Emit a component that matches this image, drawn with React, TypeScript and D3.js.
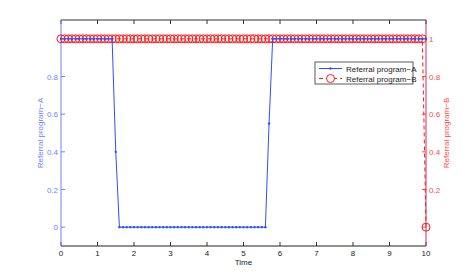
import * as d3 from "d3";

const WIDTH = 471;
const HEIGHT = 277;
const PLOT = { left: 61, right: 426, top: 20, bottom: 246 };

// sample times (s)
const time = [
  0, 0.1, 0.2, 0.3, 0.4, 0.5, 0.6, 0.7, 0.8, 0.9,
  1, 1.1, 1.2, 1.3, 1.4, 1.5, 1.6, 1.7, 1.8, 1.9,
  2, 2.1, 2.2, 2.3, 2.4, 2.5, 2.6, 2.7, 2.8, 2.9,
  3, 3.1, 3.2, 3.3, 3.4, 3.5, 3.6, 3.7, 3.8, 3.9,
  4, 4.1, 4.2, 4.3, 4.4, 4.5, 4.6, 4.7, 4.8, 4.9,
  5, 5.1, 5.2, 5.3, 5.4, 5.5, 5.6, 5.7, 5.8, 5.9,
  6, 6.1, 6.2, 6.3, 6.4, 6.5, 6.6, 6.7, 6.8, 6.9,
  7, 7.1, 7.2, 7.3, 7.4, 7.5, 7.6, 7.7, 7.8, 7.9,
  8, 8.1, 8.2, 8.3, 8.4, 8.5, 8.6, 8.7, 8.8, 8.9,
  9, 9.1, 9.2, 9.3, 9.4, 9.5, 9.6, 9.7, 9.8, 9.9,
  10,
];

const programA = [
  1, 1, 1, 1, 1, 1, 1, 1, 1, 1,
  1, 1, 1, 1, 1, 0.4, 0, 0, 0, 0,
  0, 0, 0, 0, 0, 0, 0, 0, 0, 0,
  0, 0, 0, 0, 0, 0, 0, 0, 0, 0,
  0, 0, 0, 0, 0, 0, 0, 0, 0, 0,
  0, 0, 0, 0, 0, 0, 0, 0.55, 1, 1,
  1, 1, 1, 1, 1, 1, 1, 1, 1, 1,
  1, 1, 1, 1, 1, 1, 1, 1, 1, 1,
  1, 1, 1, 1, 1, 1, 1, 1, 1, 1,
  1, 1, 1, 1, 1, 1, 1, 1, 1, 1,
  1,
];

const programB = [
  1, 1, 1, 1, 1, 1, 1, 1, 1, 1,
  1, 1, 1, 1, 1, 1, 1, 1, 1, 1,
  1, 1, 1, 1, 1, 1, 1, 1, 1, 1,
  1, 1, 1, 1, 1, 1, 1, 1, 1, 1,
  1, 1, 1, 1, 1, 1, 1, 1, 1, 1,
  1, 1, 1, 1, 1, 1, 1, 1, 1, 1,
  1, 1, 1, 1, 1, 1, 1, 1, 1, 1,
  1, 1, 1, 1, 1, 1, 1, 1, 1, 1,
  1, 1, 1, 1, 1, 1, 1, 1, 1, 1,
  1, 1, 1, 1, 1, 1, 1, 1, 1, 1,
  0,
];

const xTicks = [0, 1, 2, 3, 4, 5, 6, 7, 8, 9, 10];
const leftTicks = [0, 0.2, 0.4, 0.6, 0.8];
const rightTicks = [0, 0.2, 0.4, 0.6, 0.8, 1];

const BLUE = "#2f4dff";
const BLUE_AXIS = "#6f82ff";
const RED = "#ff1a1a";
const RED_TEXT = "#ff4a4a";
const FONT = "'Liberation Sans', Arial, sans-serif";

export default function App() {
  const x = d3.scaleLinear().domain([0, 10]).range([PLOT.left, PLOT.right]);
  const yA = d3.scaleLinear().domain([-0.1, 1.1]).range([PLOT.bottom, PLOT.top]);
  const yB = d3.scaleLinear().domain([-0.1, 1.1]).range([PLOT.bottom, PLOT.top]);

  const lineA = d3
    .line<number>()
    .x((_, i) => x(time[i]))
    .y((d) => yA(d));
  const lineB = d3
    .line<number>()
    .x((_, i) => x(time[i]))
    .y((d) => yB(d));

  const midY = (PLOT.top + PLOT.bottom) / 2;

  return (
    <div style={{ position: "absolute", left: 0, top: 0 }}>
      <svg width={WIDTH} height={HEIGHT} fontFamily={FONT}>
        <rect width={WIDTH} height={HEIGHT} fill="#fff" />

        {/* top + bottom frame */}
        <line x1={PLOT.left} x2={PLOT.right} y1={PLOT.top} y2={PLOT.top} stroke="#333" />
        <line x1={PLOT.left} x2={PLOT.right} y1={PLOT.bottom} y2={PLOT.bottom} stroke="#222" />

        {xTicks.map((t) => (
          <g key={t}>
            <line x1={x(t)} x2={x(t)} y1={PLOT.bottom} y2={PLOT.bottom - 4} stroke="#333" />
            <line x1={x(t)} x2={x(t)} y1={PLOT.top} y2={PLOT.top + 4} stroke="#333" />
            <text x={x(t)} y={PLOT.bottom + 10} textAnchor="middle" fontSize={8} fill="#222">
              {t}
            </text>
          </g>
        ))}
        <text x={(PLOT.left + PLOT.right) / 2} y={PLOT.bottom + 19} textAnchor="middle" fontSize={8} fill="#222">
          Time
        </text>

        {/* left axis (A) */}
        <line x1={PLOT.left} x2={PLOT.left} y1={PLOT.top} y2={PLOT.bottom} stroke={BLUE_AXIS} />
        {leftTicks.map((t) => (
          <g key={t}>
            <line x1={PLOT.left} x2={PLOT.left + 4} y1={yA(t)} y2={yA(t)} stroke={BLUE_AXIS} />
            <text x={PLOT.left - 3} y={yA(t) + 3} textAnchor="end" fontSize={8} fill={BLUE_AXIS}>
              {t}
            </text>
          </g>
        ))}
        <text
          transform={`translate(43,${midY}) rotate(-90)`}
          textAnchor="middle"
          fontSize={8}
          fill={BLUE_AXIS}
        >
          Referral program−A
        </text>

        {/* right axis (B) */}
        <line x1={PLOT.right} x2={PLOT.right} y1={PLOT.top} y2={PLOT.bottom} stroke="#c4306c" />
        {rightTicks.map((t) => (
          <g key={t}>
            <line x1={PLOT.right} x2={PLOT.right - 4} y1={yB(t)} y2={yB(t)} stroke={RED_TEXT} />
            {t !== 0 && (
              <text x={PLOT.right + 3} y={yB(t) + 3} textAnchor="start" fontSize={8} fill={RED_TEXT}>
                {t}
              </text>
            )}
          </g>
        ))}
        <text
          transform={`translate(449,${midY}) rotate(-90)`}
          textAnchor="middle"
          fontSize={8}
          fill={RED_TEXT}
        >
          Referral program−B
        </text>

        {/* series B */}
        <path d={lineB(programB) ?? ""} fill="none" stroke={RED} strokeWidth={1} strokeDasharray="4,3" />
        {programB.map((d, i) => (
          <circle key={i} cx={x(time[i])} cy={yB(d)} r={4} fill="none" stroke={RED} strokeWidth={1} />
        ))}

        {/* series A */}
        <path d={lineA(programA) ?? ""} fill="none" stroke={BLUE} strokeWidth={1} />
        {programA.map((d, i) => (
          <circle key={i} cx={x(time[i])} cy={yA(d)} r={1.2} fill={BLUE} />
        ))}

        {/* legend */}
        <g transform="translate(315,62)">
          <rect width={98} height={22} fill="#fff" stroke="#333" strokeWidth={0.8} />
          <line x1={4} x2={27} y1={6.5} y2={6.5} stroke={BLUE} />
          <circle cx={15.5} cy={6.5} r={1.2} fill={BLUE} />
          <text x={31} y={9.5} fontSize={8} fill="#222">
            Referral program−A
          </text>
          <line x1={4} x2={27} y1={16.5} y2={16.5} stroke={RED} strokeDasharray="4,3" />
          <circle cx={15.5} cy={16.5} r={4} fill="#fff" stroke={RED} strokeWidth={1} />
          <text x={31} y={19.5} fontSize={8} fill="#222">
            Referral program−B
          </text>
        </g>
      </svg>
    </div>
  );
}
